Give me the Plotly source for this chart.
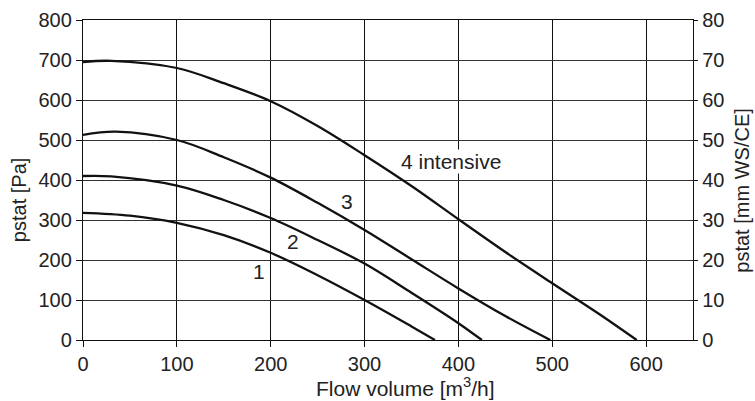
import plotly.graph_objects as go

# Fan curves: flow volume [m3/h] vs static pressure [Pa]
x1 = [0, 50, 100, 150, 200, 250, 300, 350, 375]
y1 = [318, 311, 293, 262, 218, 162, 100, 34, 0]

x2 = [0, 30, 100, 150, 200, 250, 300, 350, 400, 425]
y2 = [410, 409, 386, 350, 305, 250, 191, 118, 42, 0]

x3 = [0, 35, 100, 150, 200, 250, 300, 350, 400, 450, 498]
y3 = [513, 521, 500, 457, 406, 343, 275, 202, 129, 60, 0]

x4 = [0, 30, 100, 150, 200, 250, 300, 350, 400, 450, 500, 550, 590]
y4 = [695, 698, 680, 642, 597, 535, 462, 385, 302, 220, 142, 65, 0]

curve_labels = ["1", "2", "3", "4 intensive"]
label_x = [188, 224, 281, 392]
label_y = [171, 246, 346, 446]

x_ticks = [0, 100, 200, 300, 400, 500, 600]
y_ticks = [0, 100, 200, 300, 400, 500, 600, 700, 800]
y2_ticks = [0, 10, 20, 30, 40, 50, 60, 70, 80]

FONT = "Liberation Sans, Arial, Helvetica, sans-serif"
TXT = "#222222"

fig = go.Figure()
for xs, ys in [(x1, y1), (x2, y2), (x3, y3), (x4, y4)]:
    fig.add_trace(go.Scatter(x=xs, y=ys, mode="lines",
                             line=dict(color="#111111", width=2.3, shape="spline", smoothing=1.0),
                             showlegend=False, hoverinfo="skip"))
# invisible trace to activate the right axis
fig.add_trace(go.Scatter(x=[0], y=[0], yaxis="y2", mode="markers",
                         marker=dict(opacity=0), showlegend=False, hoverinfo="skip"))

for i, (t, lx, ly) in enumerate(zip(curve_labels, label_x, label_y)):
    fig.add_annotation(x=lx, y=ly, text=t, showarrow=False, xref="x", yref="y",
                       font=dict(family=FONT, size=21, color=TXT),
                       bgcolor="white" if i == 3 else "rgba(0,0,0,0)", borderpad=0)

fig.add_annotation(x=-0.105, y=0.44, xref="paper", yref="paper", text="pstat [Pa]",
                   textangle=-90, showarrow=False, xanchor="center", yanchor="middle",
                   font=dict(family=FONT, size=20, color=TXT))
fig.add_annotation(x=1.08, y=0.466, xref="paper", yref="paper", text="pstat [mm WS/CE]",
                   textangle=-90, showarrow=False, xanchor="center", yanchor="middle",
                   font=dict(family=FONT, size=20, color=TXT))
fig.add_annotation(x=0.528, y=-0.148, xref="paper", yref="paper", text="Flow volume [m<sup>3</sup>/h]",
                   showarrow=False, xanchor="center", yanchor="middle",
                   font=dict(family=FONT, size=21, color=TXT))

fig.update_layout(
    width=755, height=401,
    margin=dict(l=83, r=62, t=20, b=61),
    paper_bgcolor="white", plot_bgcolor="white",
    font=dict(family=FONT, size=20, color=TXT),
    xaxis=dict(range=[0, 650], tickvals=x_ticks, ticktext=[str(v) for v in x_ticks],
               showgrid=True, gridcolor="#111111", gridwidth=1.3,
               showline=True, linecolor="#111111", linewidth=1.3, mirror=True,
               ticks="outside", ticklen=6, tickcolor="#111111", zeroline=False,
               automargin=False, tickfont=dict(family=FONT, size=20, color=TXT)),
    yaxis=dict(range=[0, 800], tickvals=y_ticks, ticktext=[str(v) for v in y_ticks],
               showgrid=True, gridcolor="#333333", gridwidth=1.2,
               showline=True, linecolor="#111111", linewidth=1.3,
               ticks="outside", ticklen=6, tickcolor="#111111", zeroline=False,
               automargin=False, tickfont=dict(family=FONT, size=20, color=TXT)),
    yaxis2=dict(range=[0, 80], tickvals=y2_ticks, ticktext=[str(v) for v in y2_ticks],
                overlaying="y", side="right", showgrid=False,
                showline=True, linecolor="#111111", linewidth=1.3,
                ticks="outside", ticklen=4, tickcolor="#111111", zeroline=False,
                automargin=False, tickfont=dict(family=FONT, size=20, color=TXT)),
)

fig.write_html("out.html", config={"displayModeBar": False},
               post_script="document.body.style.margin='0';document.body.style.overflow='hidden';")
